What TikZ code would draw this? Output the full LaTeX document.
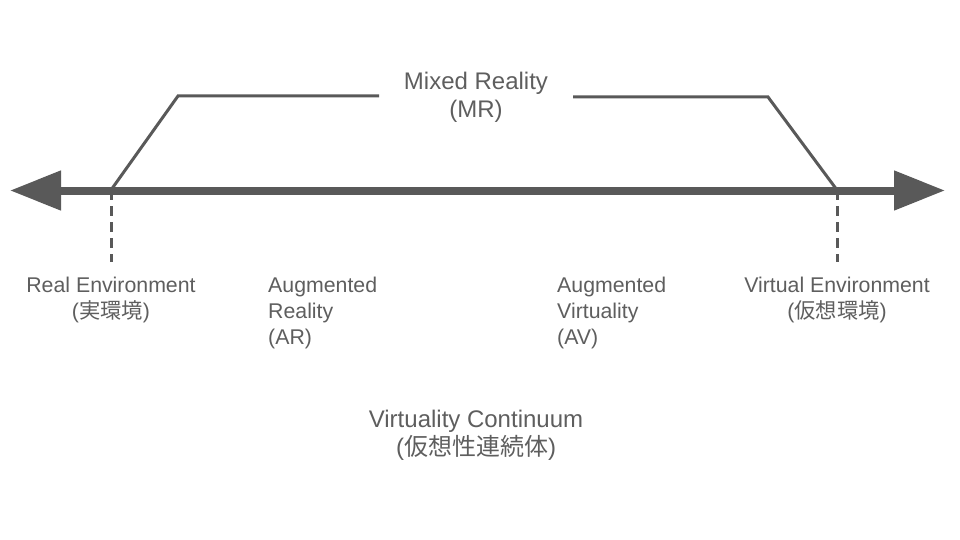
\documentclass[tikz,border=0pt]{standalone}
\usepackage{fontspec}
\setmainfont{Liberation Sans}
\newfontfamily\cjk{Noto Sans CJK JP}
\usetikzlibrary{arrows.meta}
\definecolor{ink}{HTML}{595959}
\definecolor{txt}{HTML}{5E5E5E}
\begin{document}
\begin{tikzpicture}[x=1pt,y=-1pt,
  lbl/.style={text=txt,inner sep=0pt,align=center,font=\fontsize{21.3}{26}\selectfont},
  big/.style={lbl,font=\fontsize{24}{28}\selectfont},
  lbll/.style={lbl,align=left,anchor=west},
  thin/.style={draw=ink,line width=3pt},
  guide/.style={draw=ink,line width=3pt,dash pattern=on 10pt off 6pt}]
\useasboundingbox (0,0) rectangle (960,540);
\coordinate (tipL) at (10,190.5);
\coordinate (tipR) at (945,190.5);
\coordinate (L) at (111,190);
\coordinate (R) at (837,190);
\coordinate (Ltop) at (178,96);
\coordinate (Lend) at (379,96);
\coordinate (Rstart) at (573,97);
\coordinate (Rtop) at (768,97);
\coordinate (Ldash) at (111,262);
\coordinate (Rdash) at (837,262);
\draw[guide] (L) -- (Ldash);
\draw[guide] (R) -- (Rdash);
\draw[thin,line join=miter] (L) -- (Ltop) -- (Lend);
\draw[thin,line join=miter] (Rstart) -- (Rtop) -- (R);
\draw[ink,line width=8pt,{Triangle[length=51pt,width=38pt]}-{Triangle[length=51pt,width=38pt]}] (tipL) -- (tipR);
\node[big] (mr) at (476,97.5) {Mixed Reality\\(MR)};
\node[lbl] (re) at (111,300) {Real Environment\\({\cjk 実環境})};
\node[lbl] (ve) at (837,300) {Virtual Environment\\({\cjk 仮想環境})};
\node[lbll] (ar) at (268,313) {Augmented\\Reality\\(AR)};
\node[lbll] (av) at (557,313) {Augmented\\Virtuality\\(AV)};
\node[big] (vc) at (476,435) {Virtuality Continuum\\({\cjk 仮想性連続体})};
\end{tikzpicture}
\end{document}
